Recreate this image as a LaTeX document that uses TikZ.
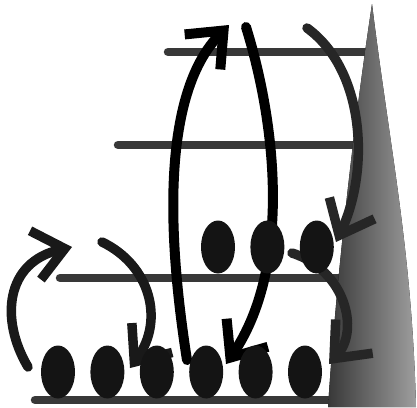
\documentclass[tikz,border=0pt]{standalone}
\usepackage{tikz}
\usetikzlibrary{arrows.meta, positioning, shapes.geometric}

\begin{document}
\begin{tikzpicture}[
  x=1pt, y=-1pt,
  node distance=15pt,
  level/.style={line width=8.5pt, line cap=round, black!78},
  egg/.style={ellipse, fill=black!92, inner sep=0pt, minimum width=34pt, minimum height=53pt},
  arr/.style={-{Straight Barb[length=30pt, width=50pt, sharp]}, line width=9.5pt, line cap=round, black!90}
]
\useasboundingbox (0,0) rectangle (417,407);

% levels
\draw[level] (168,52) -- (365,52);
\draw[level] (118,145) -- (355,145);
\draw[level] (60,278) -- (345,278);
\draw[level] (35,400) -- (330,400);

% wedge
\fill[left color=black!78, right color=black!38]
  (372,4) .. controls (350,150) and (335,300) .. (328,407)
  -- (416,407) .. controls (412,250) and (390,150) .. (372,4) -- cycle;

% free ends of the arrows
\coordinate (a1s) at (28,367);  \coordinate (a1e) at (72,247);
\coordinate (a2s) at (102,242); \coordinate (a2e) at (130,368);
\coordinate (a3s) at (187,360); \coordinate (a3e) at (229,25);
\coordinate (a4s) at (246,27);  \coordinate (a4e) at (226,364);
\coordinate (a5s) at (307,28);  \coordinate (a5e) at (336,242);
\coordinate (a6s) at (292,253); \coordinate (a6e) at (329,364);

\draw[arr] (a1s) .. controls (0,320) and (5,262) .. (a1e);
\draw[arr] (a2s) .. controls (150,265) and (165,320) .. (a2e);
\draw[arr, black, line width=10pt] (a3s) .. controls (165,220) and (165,90) .. (a3e);
\draw[arr, black, line width=10pt] (a4s) .. controls (278,130) and (290,270) .. (a4e);
\draw[arr, black!85] (a5s) .. controls (365,70) and (370,170) .. (a5e);
\draw[arr, black!85] (a6s) .. controls (345,270) and (360,330) .. (a6e);

% particles
\node[egg] (lo1) at (58,372) {};
\node[egg, right=of lo1] (lo2) {};
\node[egg, right=of lo2] (lo3) {};
\node[egg, right=of lo3] (lo4) {};
\node[egg, right=of lo4] (lo5) {};
\node[egg, right=of lo5] (lo6) {};
\node[egg] (mid1) at (218,247) {};
\node[egg, right=of mid1] (mid2) {};
\node[egg, right=of mid2] (mid3) {};
\end{tikzpicture}
\end{document}
